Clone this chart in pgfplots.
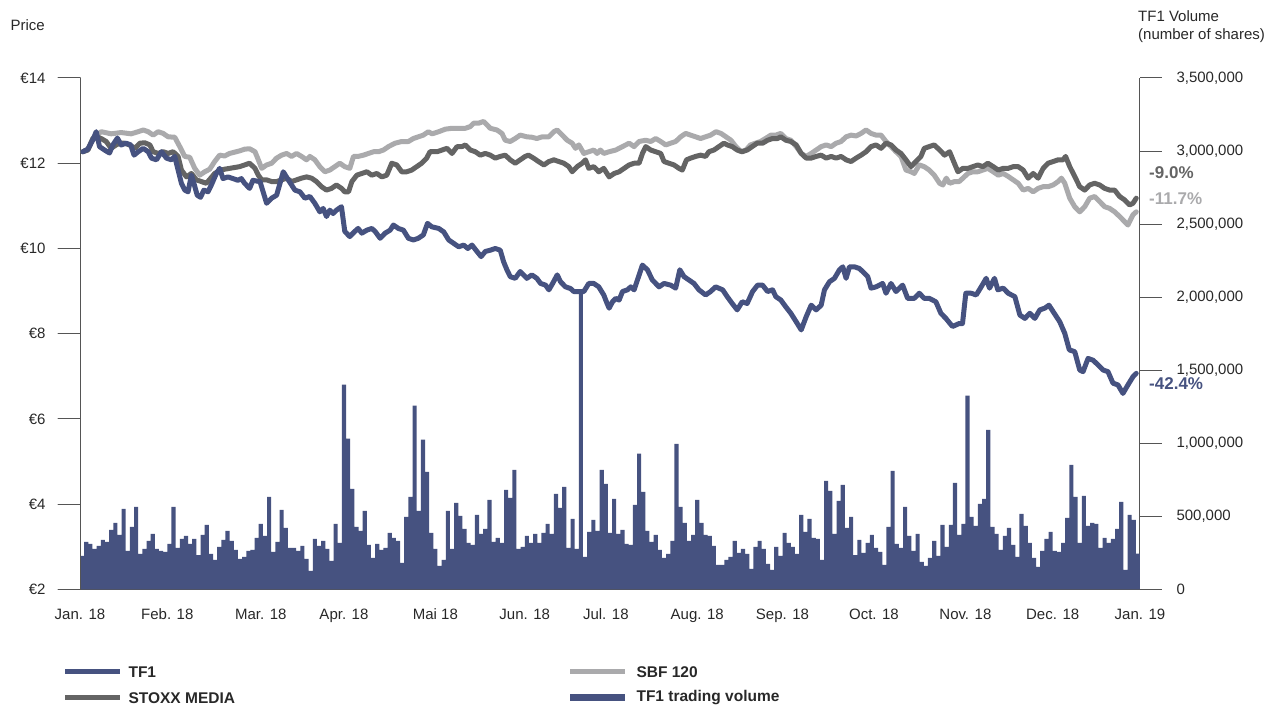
\documentclass[border=0pt]{standalone}
\usepackage{fontspec}
\setmainfont{Liberation Sans}
\usepackage{pgfplots}
\pgfplotsset{compat=1.18}
\usepackage{pgfplotstable}
\definecolor{tfblue}{RGB}{70,82,128}
\definecolor{stoxx}{RGB}{100,100,100}
\definecolor{sbf}{RGB}{170,170,172}
\definecolor{axisgray}{RGB}{85,85,85}
\definecolor{txt}{RGB}{40,40,40}

% TF1 daily trading volume (thousands of shares), 255 sessions of 2018
\pgfplotstableread{
v
230
326
312
278
298
339
326
408
456
374
552
264
428
566
243
278
332
380
278
264
257
312
566
284
346
367
312
346
236
374
442
243
202
291
339
401
332
271
209
223
264
271
353
449
367
634
257
326
545
422
284
284
264
298
209
127
346
298
332
278
195
449
319
1402
1032
689
428
401
538
305
216
312
271
284
387
353
332
182
497
634
1258
538
1025
805
387
278
161
202
538
278
593
504
415
319
305
511
380
415
614
326
353
319
682
627
819
278
291
367
319
380
319
387
449
380
655
559
703
284
483
278
2045
223
394
476
401
819
723
387
620
380
408
312
305
579
929
668
401
326
374
271
216
243
332
997
566
456
332
374
614
456
374
367
298
168
168
202
223
332
250
278
243
141
291
332
278
175
134
291
230
387
319
291
243
511
394
483
353
346
202
744
675
380
607
716
422
497
236
339
250
319
374
284
257
168
428
812
312
284
566
367
264
380
189
161
216
332
230
442
291
442
730
374
449
1326
497
435
586
620
1093
428
380
271
367
422
305
223
518
435
319
216
154
264
346
394
264
257
319
490
853
634
319
641
435
456
449
284
353
319
346
415
600
134
511
476
246
}\volume

\begin{document}
\begin{tikzpicture}
\path (0pt,0pt) rectangle (1274pt,708pt);
\pgfplotsset{every tick label/.append style={font=\fontsize{15}{18}\selectfont, text=txt}}
% volume axis (right)
\begin{axis}[
  at={(80pt,118.5pt)}, anchor=south west, scale only axis,
  width=1060pt, height=511.5pt,
  xmin=0, xmax=255, ymin=0, ymax=3500,
  axis y line*=right, axis x line*=bottom,
  axis line style={draw=axisgray, line width=1pt, -},
  ytick={0,500,1000,1500,2000,2500,3000,3500},
  yticklabels={0,{500,000},{1,000,000},{1,500,000},{2,000,000},{2,500,000},{3,000,000},{3,500,000}},
  ytick style={draw=axisgray, line width=1pt},
  tick align=outside, major tick length=22pt,
  yticklabel style={anchor=west, xshift=11pt},
  xtick={0,21,43.5,63.5,85.5,107,126.5,148.5,169,191,213,234,255},
  xticklabels={Jan. 18,Feb. 18,Mar. 18,Apr. 18,Mai 18,Jun. 18,Jul. 18,Aug. 18,Sep. 18,Oct. 18,Nov. 18,Dec. 18,Jan. 19},
  xtick style={draw=none},
  xticklabel style={yshift=6pt},
  clip=false,
]
\addplot[ybar, bar width=1, bar shift=0pt, fill=tfblue, draw=none] table[x expr=\coordindex+0.5, y=v] {\volume};
\end{axis}
% price axis (left)
\begin{axis}[
  at={(80pt,118.5pt)}, anchor=south west, scale only axis,
  width=1060pt, height=511.5pt,
  xmin=0, xmax=255, ymin=2, ymax=14,
  axis y line*=left, axis x line=none,
  axis line style={draw=axisgray, line width=1pt, -},
  ytick={2,4,6,8,10,12,14},
  yticklabels={€2,€4,€6,€8,€10,€12,€14},
  ytick style={draw=axisgray, line width=1pt},
  tick align=outside, major tick length=22pt,
  yticklabel style={anchor=east, xshift=-9pt},
  clip=false,
  line join=round, line cap=round,
]
\addplot[sbf, line width=5pt] coordinates {
(0.7,12.27) (1.9,12.33) (3.1,12.58) (5.1,12.74) (7.5,12.69) (9.9,12.72) (12.3,12.69) (14.0,12.74) (15.2,12.78) (16.4,12.74) (17.6,12.66) (18.8,12.74) (20.0,12.70) (21.2,12.62) (22.8,12.61) (24.0,12.39) (25.2,12.16) (26.4,12.14) (27.6,11.88) (28.8,11.72) (30.0,11.80) (31.2,11.86) (32.4,12.04) (33.6,12.19) (34.8,12.17) (36.0,12.23) (37.2,12.26) (38.4,12.29) (39.6,12.33) (40.8,12.34)
(42.1,12.27) (42.9,12.08) (43.7,11.88) (44.9,11.96) (46.1,12.00) (47.3,12.12) (48.5,12.19) (49.7,12.23) (50.9,12.16) (52.1,12.23) (53.3,12.16) (54.5,12.08) (55.3,12.16) (56.5,12.08) (57.7,11.92) (58.9,11.80) (60.1,11.84) (61.3,11.92) (62.5,12.00) (63.7,11.92) (64.9,11.88) (65.8,12.16) (66.9,12.16) (68.2,12.19) (69.4,12.23) (70.6,12.27) (71.8,12.27) (73.0,12.31) (74.2,12.39) (75.8,12.47) (77.4,12.51) (79.0,12.51) (80.2,12.58) (81.4,12.62) (82.6,12.66) (83.8,12.74)
(84.7,12.69) (86.3,12.74) (87.9,12.80) (89.5,12.82) (91.1,12.82) (92.7,12.82) (93.9,12.86) (94.7,12.94) (95.9,12.94) (97.1,12.98) (97.9,12.90) (98.7,12.82) (100.3,12.78) (101.5,12.70) (102.3,12.54) (103.5,12.51) (104.7,12.58) (105.9,12.66) (107.5,12.62) (108.7,12.61) (109.9,12.58) (111.2,12.62) (112.8,12.62) (114.0,12.74) (114.8,12.78) (116.0,12.66) (117.2,12.54) (118.4,12.47) (119.2,12.35) (120.0,12.43) (121.2,12.23) (122.4,12.27) (123.6,12.31) (124.4,12.23) (125.2,12.31) (126.0,12.23)
(127.3,12.27) (128.9,12.31) (130.5,12.39) (132.1,12.47) (133.3,12.39) (134.5,12.51) (136.1,12.54) (137.3,12.51) (138.5,12.58) (139.7,12.51) (140.9,12.43) (142.1,12.47) (143.3,12.51) (144.5,12.62) (145.7,12.70) (146.9,12.66) (148.1,12.62) (149.3,12.58) (150.5,12.62) (151.7,12.66) (153.0,12.74) (154.2,12.70) (155.4,12.62) (156.6,12.54) (157.8,12.39) (159.0,12.27) (160.2,12.31) (161.3,12.43) (162.5,12.47) (163.7,12.51) (164.9,12.58) (166.2,12.66) (167.4,12.66) (168.6,12.70)
(169.8,12.58) (171.0,12.54) (172.3,12.39) (173.5,12.23) (174.7,12.16) (175.9,12.23) (177.1,12.31) (178.3,12.39) (179.5,12.43) (180.7,12.39) (181.9,12.47) (183.1,12.51) (184.3,12.62) (185.5,12.66) (186.7,12.64) (187.9,12.70) (189.1,12.78) (190.3,12.70) (191.5,12.66) (192.7,12.66) (193.9,12.51) (195.1,12.39) (196.3,12.27) (197.5,12.16) (198.7,11.84) (199.9,11.80) (200.7,11.76) (201.9,11.96) (203.1,11.92) (204.3,11.84) (205.5,11.72) (206.8,11.53) (207.6,11.49) (208.4,11.65) (209.2,11.53) (210.4,11.57) (211.5,11.57)
(212.4,11.65) (213.6,11.76) (214.8,11.80) (216.0,11.80) (217.2,11.84) (218.4,11.88) (219.7,11.80) (220.9,11.72) (222.1,11.76) (223.3,11.69) (224.5,11.61) (225.7,11.53) (226.9,11.37) (228.1,11.41) (229.3,11.33) (230.5,11.41) (231.7,11.45) (232.9,11.45) (234.1,11.49) (235.3,11.57) (236.1,11.65) (236.9,11.53) (238.1,11.18) (239.3,10.98) (240.5,10.86) (241.7,10.98) (242.9,11.18) (244.1,11.22) (245.3,11.10) (246.5,10.98) (247.7,10.94) (248.9,10.86) (250.1,10.75) (251.3,10.63) (252.1,10.55) (253.3,10.79) (254.1,10.86)
};
\addplot[stoxx, line width=5pt] coordinates {
(0.7,12.27) (1.9,12.31) (3.1,12.58) (3.9,12.62) (5.1,12.58) (6.3,12.51) (7.5,12.35) (8.7,12.43) (9.5,12.47) (10.7,12.47) (11.9,12.43) (13.2,12.35) (14.4,12.47) (15.6,12.48) (16.8,12.43) (17.6,12.27) (18.8,12.23) (20.0,12.27) (21.2,12.23) (22.4,12.27) (23.6,12.16) (24.4,11.84) (25.6,11.68) (26.8,11.76) (28.0,11.61) (29.2,11.57) (30.4,11.53) (31.2,11.62) (32.4,11.76) (33.6,11.83) (34.8,11.86) (36.0,11.88) (37.2,11.90) (38.4,11.92) (39.6,11.96) (40.8,12.00)
(42.1,11.88) (42.9,11.72) (43.7,11.61) (44.9,11.61) (46.1,11.57) (47.3,11.57) (48.5,11.61) (49.7,11.65) (50.9,11.57) (52.1,11.61) (53.3,11.65) (54.5,11.68) (55.7,11.65) (56.9,11.57) (58.1,11.45) (59.3,11.37) (60.5,11.41) (61.7,11.49) (62.9,11.41) (63.7,11.33) (64.6,11.33) (65.4,11.57) (66.6,11.72) (67.8,11.76) (69.0,11.80) (70.2,11.72) (71.4,11.76) (72.6,11.68) (73.8,11.72) (75.0,12.00) (76.2,11.96) (77.4,11.80) (78.6,11.80) (79.8,11.84) (81.0,11.92) (82.2,12.00) (83.4,12.12) (84.2,12.27)
(85.9,12.27) (87.1,12.31) (88.3,12.35) (89.5,12.23) (90.7,12.39) (91.9,12.39) (92.7,12.43) (93.9,12.31) (95.1,12.27) (96.3,12.19) (97.5,12.23) (98.7,12.19) (99.9,12.12) (101.1,12.16) (102.3,12.19) (103.5,12.08) (104.7,12.00) (105.9,12.08) (107.1,12.16) (107.9,12.19) (109.1,12.12) (110.3,12.04) (111.6,11.96) (112.8,12.04) (114.0,12.08) (115.2,12.04) (116.4,12.00) (117.6,11.92) (118.4,11.80) (119.6,11.92) (120.8,12.00) (121.6,12.08) (122.4,11.88) (123.6,11.92) (124.8,11.80) (126.0,11.88)
(127.3,11.68) (128.5,11.76) (129.7,11.80) (130.9,11.88) (132.1,11.96) (133.3,12.00) (134.5,12.00) (135.3,12.23) (136.1,12.39) (137.3,12.31) (138.5,12.27) (139.7,12.23) (140.5,12.04) (141.7,12.00) (142.9,11.96) (144.1,11.88) (144.9,11.84) (145.9,12.08) (146.9,12.12) (148.1,12.16) (149.3,12.19) (150.5,12.16) (151.3,12.27) (152.5,12.31) (153.7,12.39) (154.9,12.47) (155.7,12.43) (156.9,12.39) (158.1,12.31) (159.3,12.27) (160.5,12.31) (161.7,12.39) (162.9,12.47) (164.2,12.47) (165.4,12.54) (166.6,12.58) (167.8,12.58) (168.6,12.62)
(169.8,12.54) (171.0,12.51) (172.3,12.43) (173.5,12.23) (174.7,12.12) (175.9,12.12) (177.1,12.16) (178.3,12.19) (179.5,12.12) (180.7,12.16) (181.9,12.12) (183.1,12.16) (184.3,12.08) (185.5,12.04) (186.7,12.12) (187.9,12.19) (189.1,12.27) (190.3,12.39) (191.5,12.43) (192.7,12.35) (193.9,12.47) (195.1,12.43) (196.3,12.31) (197.5,12.23) (198.7,12.08) (199.9,11.92) (201.1,12.04) (202.3,12.16) (203.1,12.35) (204.3,12.39) (205.5,12.43) (206.8,12.31) (208.0,12.19) (209.2,12.27) (210.0,12.08) (211.2,11.80)
(212.4,11.88) (213.6,11.88) (214.8,11.92) (216.0,11.96) (217.2,11.92) (218.4,12.00) (219.7,11.92) (220.9,11.84) (222.1,11.88) (223.3,11.88) (224.5,11.92) (225.7,11.92) (226.9,11.84) (228.1,11.65) (229.3,11.76) (230.5,11.65) (231.7,11.88) (232.9,12.00) (234.1,12.04) (235.3,12.08) (236.5,12.08) (237.1,12.16) (238.1,11.92) (239.3,11.69) (240.5,11.45) (241.7,11.37) (242.9,11.49) (244.1,11.53) (245.3,11.49) (246.5,11.41) (247.7,11.37) (248.9,11.37) (250.1,11.22) (251.3,11.14) (252.5,11.02) (253.3,11.06) (254.1,11.18)
};
\addplot[tfblue, line width=5pt] coordinates {
(0.7,12.27) (1.9,12.33) (3.1,12.55) (3.9,12.74) (4.7,12.39) (5.9,12.31) (7.1,12.24) (7.9,12.43) (9.0,12.59) (9.9,12.43) (11.1,12.47) (12.2,12.43) (13.0,12.19) (14.0,12.27) (15.2,12.35) (16.4,12.27) (17.2,12.12) (18.4,12.08) (19.6,12.27) (20.8,12.12) (22.0,12.08) (22.8,12.16) (23.6,11.84) (24.4,11.53) (25.2,11.37) (26.0,11.33) (26.8,11.72) (27.4,11.53) (28.2,11.25) (29.0,11.20) (29.8,11.37) (30.8,11.33) (31.6,11.49) (32.8,11.76) (33.6,11.88) (34.4,11.64) (35.6,11.68) (36.8,11.64) (38.0,11.60) (38.8,11.64) (39.6,11.53) (40.8,11.41) (41.6,11.60)
(42.6,11.58) (43.3,11.57) (44.9,11.06) (46.1,11.18) (47.3,11.25) (48.9,11.80) (50.1,11.61) (51.7,11.37) (52.9,11.33) (54.1,11.18) (55.3,11.22) (56.5,11.06) (57.7,10.86) (58.5,10.94) (59.3,10.75) (60.1,10.90) (60.9,10.82) (61.7,10.90) (62.9,10.98) (63.7,10.40) (64.9,10.28) (66.1,10.40) (66.9,10.47) (67.8,10.36) (69.0,10.43) (70.2,10.47) (71.0,10.40) (72.2,10.24) (73.4,10.36) (74.6,10.43) (75.4,10.55) (76.6,10.47) (77.8,10.43) (79.0,10.24) (80.2,10.20) (81.4,10.24) (82.6,10.32) (83.6,10.59) (84.6,10.51)
(86.3,10.47) (87.5,10.39) (88.7,10.20) (89.9,10.12) (91.1,10.04) (92.3,10.08) (93.3,10.00) (94.3,10.08) (95.5,9.93) (96.5,9.81) (97.5,9.93) (98.7,9.96) (99.9,10.00) (101.1,9.96) (101.9,9.69) (102.7,9.50) (103.5,9.34) (104.7,9.30) (105.9,9.46) (106.7,9.38) (107.5,9.30) (108.7,9.38) (109.9,9.30) (110.8,9.18) (112.0,9.14) (112.8,9.03) (113.7,9.18) (114.8,9.38) (115.6,9.22) (116.8,9.10) (118.0,9.06) (118.8,8.99) (120.0,8.99) (121.2,8.99) (122.4,9.18) (123.6,9.18) (124.8,9.10) (126.0,8.91) (126.8,8.71)
(127.3,8.60) (128.1,8.75) (128.9,8.83) (129.7,8.79) (130.5,8.99) (131.7,9.03) (132.5,9.10) (133.3,9.03) (134.1,9.26) (135.3,9.61) (136.5,9.50) (137.7,9.26) (139.3,9.10) (140.5,9.18) (142.1,9.14) (143.3,9.07) (144.3,9.50) (145.3,9.34) (146.5,9.26) (147.7,9.18) (148.9,9.03) (150.5,8.91) (151.7,8.99) (152.9,9.10) (154.6,9.03) (155.7,8.87) (156.9,8.71) (158.1,8.56) (159.3,8.75) (160.5,8.71) (161.8,8.99) (163.0,9.14) (164.2,9.14) (165.4,8.99) (166.6,9.03) (167.4,8.87) (168.6,8.79) (169.8,8.63)
(171.0,8.48) (172.3,8.28) (173.5,8.09) (174.7,8.40) (175.9,8.67) (177.1,8.56) (178.3,8.67) (179.1,9.03) (180.3,9.22) (181.5,9.30) (182.7,9.50) (183.5,9.57) (184.3,9.30) (185.1,9.57) (186.3,9.57) (187.5,9.53) (188.7,9.42) (189.5,9.34) (190.3,9.07) (191.5,9.10) (193.1,9.18) (193.9,8.95) (195.1,9.18) (196.3,8.99) (197.9,9.14) (199.1,8.83) (200.7,8.83) (201.9,8.95) (203.1,8.83) (204.3,8.83) (205.9,8.75) (207.1,8.48) (208.3,8.36) (209.9,8.17) (211.5,8.24)
(212.3,8.24) (213.1,8.95) (214.4,8.95) (215.6,8.91) (216.8,9.10) (218.0,9.30) (218.8,9.07) (220.0,9.30) (220.8,9.03) (222.1,9.07) (223.3,8.95) (224.9,8.87) (226.1,8.44) (227.3,8.36) (228.5,8.48) (229.7,8.36) (230.9,8.56) (232.1,8.60) (233.1,8.67) (234.1,8.52) (235.7,8.28) (236.9,8.01) (238.0,7.62) (239.3,7.58) (240.5,7.15) (241.3,7.11) (242.5,7.42) (243.7,7.38) (244.9,7.27) (246.1,7.15) (247.3,7.11) (248.5,6.84) (249.7,6.80) (250.9,6.60) (252.1,6.80) (253.3,6.99) (254.1,7.07)
};
\end{axis}
% titles
\node[anchor=west, font=\fontsize{15}{18}\selectfont, text=txt] at (7pt,683pt) {Price};
\node[anchor=north west, align=left, font=\fontsize{15}{18}\selectfont, text=txt, inner sep=0pt] at (1138pt,698pt) {TF1 Volume\\(number of shares)};
% end-of-period changes
\node[anchor=west, font=\bfseries\fontsize{17}{20}\selectfont, text=stoxx, inner sep=0pt] at (1149pt,535pt) {-9.0\%};
\node[anchor=west, font=\bfseries\fontsize{17}{20}\selectfont, text=sbf, inner sep=0pt] at (1149pt,509pt) {-11.7\%};
\node[anchor=west, font=\bfseries\fontsize{17}{20}\selectfont, text=tfblue, inner sep=0pt] at (1149pt,324pt) {-42.4\%};
% legend
\draw[tfblue, line width=5pt] (65pt,36pt) -- (120pt,36pt);
\node[anchor=west, font=\bfseries\fontsize{15.5}{18}\selectfont, text=txt] at (125pt,36pt) {TF1};
\draw[sbf, line width=5pt] (570pt,36pt) -- (625pt,36pt);
\node[anchor=west, font=\bfseries\fontsize{15.5}{18}\selectfont, text=txt] at (633pt,36pt) {SBF 120};
\draw[stoxx, line width=5pt] (65pt,10pt) -- (120pt,10pt);
\node[anchor=west, font=\bfseries\fontsize{15.5}{18}\selectfont, text=txt] at (125pt,10pt) {STOXX MEDIA};
\draw[tfblue, line width=7pt] (570pt,10pt) -- (625pt,10pt);
\node[anchor=west, font=\bfseries\fontsize{15.5}{18}\selectfont, text=txt] at (633pt,10pt) {TF1 trading volume};
\end{tikzpicture}
\end{document}
